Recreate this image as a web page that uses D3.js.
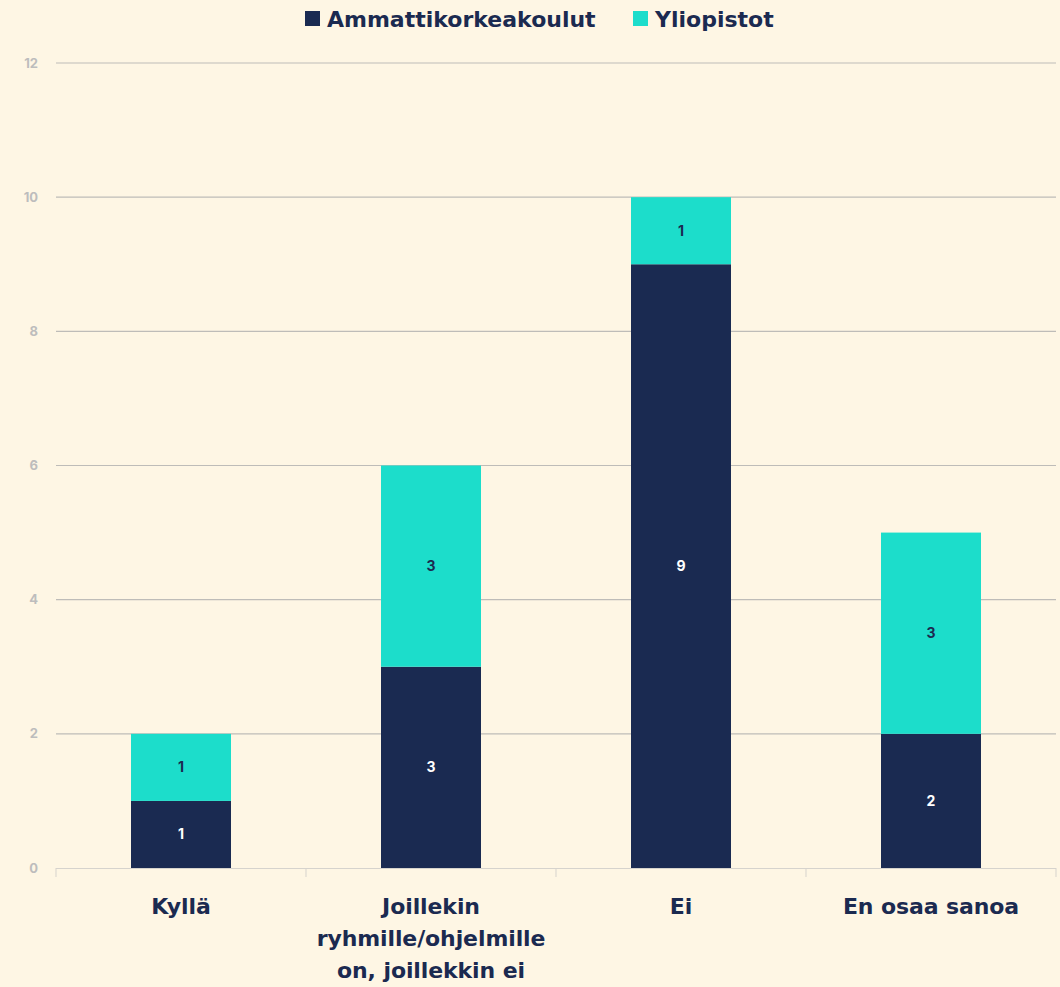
<!DOCTYPE html>
<html><head><meta charset="utf-8">
<script src="https://cdn.jsdelivr.net/npm/d3@7"></script>
<style>html,body{margin:0;padding:0;background:#FEF6E4;}svg{display:block;}</style>
</head><body>
<script>
const categories = ["Kyllä", "Joillekin ryhmille/ohjelmille on, joillekkin ei", "Ei", "En osaa sanoa"];
const categoryLines = [["Kyllä"], ["Joillekin", "ryhmille/ohjelmille", "on, joillekkin ei"], ["Ei"], ["En osaa sanoa"]];
const seriesNames = ["Ammattikorkeakoulut", "Yliopistot"];
const ammattikorkeakoulut = [1, 3, 9, 2];
const yliopistot = [1, 3, 1, 3];
const yTicks = [0, 2, 4, 6, 8, 10, 12];
const colors = ["#1A2A51", "#1CDDCB"];

const W = 1060, H = 987;
const m = {left: 56, right: 4, top: 63, bottom: 119};
const svg = d3.select("body").append("svg").attr("width", W).attr("height", H);
svg.append("rect").attr("width", W).attr("height", H).attr("fill", "#FEF6E4");

const x = d3.scaleBand().domain(categories).range([m.left, W - m.right]).padding(0);
const y = d3.scaleLinear().domain([0, 12]).range([H - m.bottom, m.top]);
const font = "Inter, 'Open Sans', sans-serif";
const wide = "'DejaVu Sans', sans-serif";

// gridlines
svg.append("g").selectAll("line").data(yTicks.filter(d => d > 0)).join("line")
  .attr("x1", m.left).attr("x2", W - m.right)
  .attr("y1", d => y(d)).attr("y2", d => y(d))
  .attr("stroke", "#BEBCB8").attr("stroke-width", 1.2);

// y labels
svg.append("g").selectAll("text").data(yTicks).join("text")
  .attr("x", 38).attr("y", d => y(d)).attr("dy", "0.35em")
  .attr("text-anchor", "end").attr("font-family", font).attr("font-weight", 700)
  .attr("font-size", 13).attr("fill", "#BDBDBD").text(d => d);

// bars
const stack = d3.stack().keys([0, 1]).value((d, k) => d[k]);
const rows = categories.map((c, i) => ({cat: c, 0: ammattikorkeakoulut[i], 1: yliopistot[i]}));
const layers = stack(rows);
const bw = x.bandwidth() * 0.4;
layers.forEach((layer, li) => {
  const g = svg.append("g");
  g.selectAll("rect").data(layer).join("rect")
    .attr("x", d => x(d.data.cat) + (x.bandwidth() - bw) / 2)
    .attr("width", bw)
    .attr("y", d => y(d[1])).attr("height", d => y(d[0]) - y(d[1]))
    .attr("fill", colors[li]);
  g.selectAll("text").data(layer).join("text")
    .attr("x", d => x(d.data.cat) + x.bandwidth() / 2)
    .attr("y", d => (y(d[0]) + y(d[1])) / 2).attr("dy", "0.35em")
    .attr("text-anchor", "middle").attr("font-family", font).attr("font-weight", 700)
    .attr("font-size", 14).attr("fill", li === 0 ? "#FFFFFF" : "#1B2A50")
    .text(d => d[1] - d[0]);
});

// x axis line and ticks
const y0 = y(0);
svg.append("line").attr("x1", m.left).attr("x2", W - m.right).attr("y1", y0 + 0.5).attr("y2", y0 + 0.5)
  .attr("stroke", "#D6D3CD").attr("stroke-width", 1);
const bounds = categories.map(c => x(c)).concat([x(categories[categories.length - 1]) + x.bandwidth()]);
svg.append("g").selectAll("line").data(bounds).join("line")
  .attr("x1", d => d).attr("x2", d => d).attr("y1", y0).attr("y2", y0 + 9)
  .attr("stroke", "#D6D3CD").attr("stroke-width", 1);

// category labels
categories.forEach((c, i) => {
  const t = svg.append("text").attr("x", x(c) + x.bandwidth() / 2).attr("y", y0 + 46)
    .attr("text-anchor", "middle").attr("font-family", wide).attr("font-weight", 700)
    .attr("font-size", 22).attr("fill", "#1B2A50").attr("letter-spacing", "-0.1");
  categoryLines[i].forEach((ln, j) => t.append("tspan").attr("x", x(c) + x.bandwidth() / 2).attr("dy", j === 0 ? 0 : 32).text(ln));
});

// legend
const leg = svg.append("g");
const legItems = [{name: seriesNames[0], x: 305}, {name: seriesNames[1], x: 633}];
legItems.forEach((it, i) => {
  leg.append("rect").attr("x", it.x).attr("y", 11).attr("width", 15).attr("height", 15).attr("fill", colors[i]);
  leg.append("text").attr("x", it.x + 22).attr("y", 27).attr("font-family", wide).attr("font-weight", 700)
    .attr("font-size", 22).attr("fill", "#1B2A50").attr("letter-spacing", "0").text(it.name);
});
</script>
</body></html>
